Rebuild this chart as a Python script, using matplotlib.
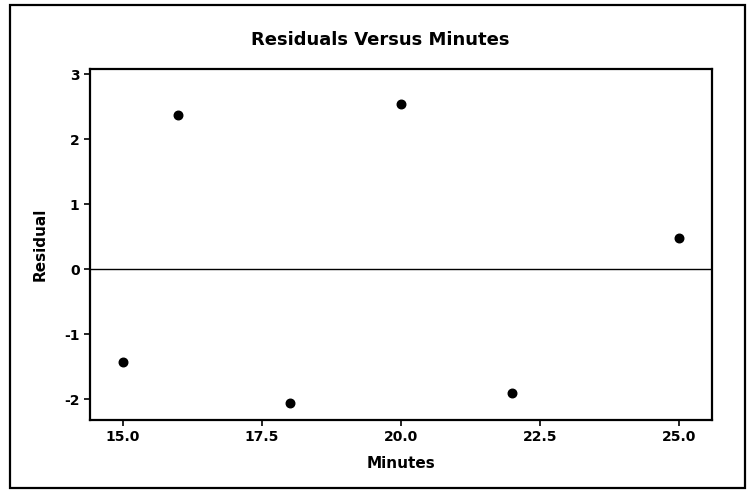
import matplotlib.pyplot as plt
from matplotlib.patches import Rectangle

# residuals
minutes = [15, 16, 18, 20, 22, 25]
residuals = [-1.43, 2.37, -2.06, 2.54, -1.90, 0.48]

x_ticks = [15.0, 17.5, 20.0, 22.5, 25.0]
y_ticks = [-2, -1, 0, 1, 2, 3]

plt.rcParams['font.family'] = ['DejaVu Sans']
plt.rcParams['axes.unicode_minus'] = False

fig = plt.figure(figsize=(7.53, 4.90), dpi=100)
ax = fig.add_axes([90 / 753, 1 - 420 / 490, (712 - 90) / 753, (420 - 69) / 490])

ax.scatter(minutes, residuals, s=38, color='black', zorder=3)
ax.axhline(0, color='black', linewidth=1.0)

ax.set_xlim(14.41, 25.59)
ax.set_ylim(-2.32, 3.08)
ax.set_xticks(x_ticks)
ax.set_xticklabels([f'{t:.1f}' for t in x_ticks])
ax.set_yticks(y_ticks)
ax.tick_params(direction='out', length=4, width=1.2, labelsize=10)
for lbl in ax.get_xticklabels() + ax.get_yticklabels():
    lbl.set_fontweight('bold')
for sp in ax.spines.values():
    sp.set_linewidth(1.6)

ax.set_xlabel('Minutes', fontsize=11, fontweight='bold', labelpad=8)
ax.set_ylabel('Residual', fontsize=11, fontweight='bold', labelpad=12)
fig.text(380 / 753, 1 - 40 / 490, 'Residuals Versus Minutes', ha='center', va='center',
         fontsize=13, fontweight='bold')

# outer frame around the whole graph
fig.patches.append(Rectangle((10 / 753, 1 - 488 / 490), 735 / 753, 483 / 490,
                             transform=fig.transFigure, fill=False,
                             edgecolor='black', linewidth=1.6))

fig.savefig('out.png', dpi=100)
